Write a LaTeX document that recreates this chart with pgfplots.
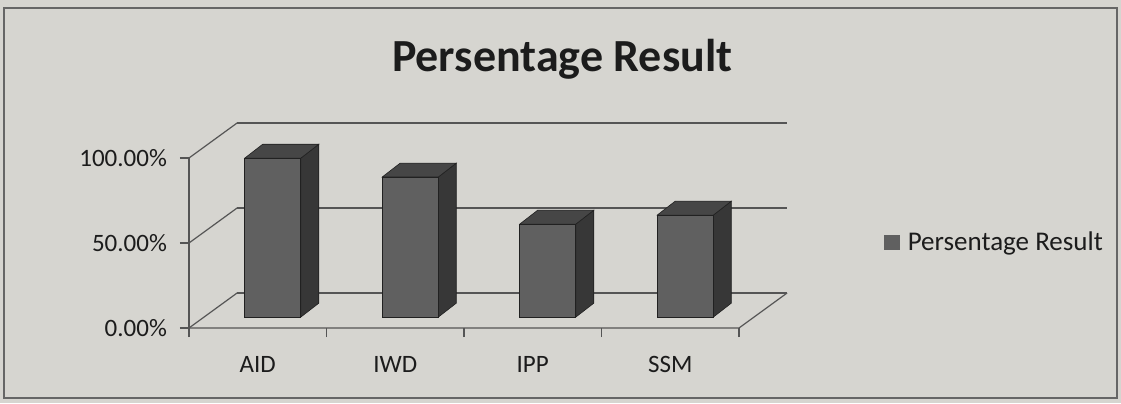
\documentclass[border=0pt]{standalone}
\usepackage{fontspec}
\setmainfont{Carlito}
\usepackage{pgfplots}
\pgfplotsset{compat=1.18}
\usepackage{pgfplotstable}
\definecolor{bg}{RGB}{214,213,208}
\definecolor{frontc}{RGB}{96,96,96}
\definecolor{sidec}{RGB}{55,55,55}
\definecolor{topc}{RGB}{70,70,70}
\definecolor{gridc}{RGB}{85,85,85}
\definecolor{txt}{RGB}{28,28,28}

\pgfplotstableread{
idx v
0 93.5
1 82.4
2 54.7
3 60.0
}\data

\begin{document}
\begin{tikzpicture}
\fill[bg] (-94.5pt,-37.5pt) rectangle (466pt,164pt);
\draw[gridc!90, line width=0.6pt] (-92.5pt,-35pt) rectangle (464pt,160pt);
\begin{axis}[
  at={(0pt,0pt)}, anchor=south west,
  x=68.75pt, y=0.85pt,
  xmin=-0.5, xmax=3.85, ymin=-6.4, ymax=114.2,
  clip=false,
  axis x line*=bottom, axis y line*=left,
  axis line style={draw=none},
  tick align=outside,
  major tick length=4.5pt,
  tick style={gridc, line width=0.6pt},
  xtick={-0.5,0.5,1.5,2.5,3.5},
  xticklabels={},
  extra x ticks={0,1,2,3},
  extra x tick labels={AID,IWD,IPP,SSM},
  extra x tick style={major tick length=0pt, xticklabel style={yshift=-10.5pt}},
  ytick={-6.4,43.6,93.6},
  yticklabels={0.00\%,50.00\%,100.00\%},
  yticklabel style={xshift=-3pt},
  ticklabel style={font=\fontsize{12.5}{15}\selectfont, text=txt},
  title={Persentage Result},
  title style={at={(0.624,1.25)}, anchor=center, font=\bfseries\fontsize{23}{27}\selectfont, text=txt},
  legend style={at={(1.162,0.417)}, anchor=west, draw=none, fill=none,
    font=\fontsize{13.5}{16}\selectfont, text=txt, inner sep=0pt,
    nodes={inner xsep=4pt}},
  legend cell align=left,
]
% back wall gridlines
\addplot[gridc, line width=0.6pt, mark=none, forget plot] coordinates {(-0.15,14.2) (3.85,14.2)};
\addplot[gridc, line width=0.6pt, mark=none, forget plot] coordinates {(-0.15,64.2) (3.85,64.2)};
\addplot[gridc, line width=0.6pt, mark=none, forget plot] coordinates {(-0.15,114.2) (3.85,114.2)};
% left wall
\addplot[gridc, line width=0.6pt, mark=none, forget plot] coordinates {(-0.5,-6.4) (-0.15,14.2)};
\addplot[gridc, line width=0.6pt, mark=none, forget plot] coordinates {(-0.5,43.6) (-0.15,64.2)};
\addplot[gridc, line width=0.6pt, mark=none, forget plot] coordinates {(-0.5,93.6) (-0.15,114.2)};
\addplot[gridc, line width=0.6pt, mark=none, forget plot] coordinates {(-0.5,-6.4) (-0.5,93.6)};
% floor edges
\addplot[gridc, line width=0.6pt, mark=none, forget plot] coordinates {(-0.5,-6.4) (3.5,-6.4) (3.85,14.2)};
% side faces
\addplot[fill=sidec, draw=sidec!60!black, line width=0.3pt, mark=none, forget plot] coordinates {(0.313,0) (0.444,8.2) (0.444,101.7) (0.313,93.5)} -- cycle;
\addplot[fill=sidec, draw=sidec!60!black, line width=0.3pt, mark=none, forget plot] coordinates {(1.313,0) (1.444,8.2) (1.444,90.6) (1.313,82.4)} -- cycle;
\addplot[fill=sidec, draw=sidec!60!black, line width=0.3pt, mark=none, forget plot] coordinates {(2.313,0) (2.444,8.2) (2.444,62.9) (2.313,54.7)} -- cycle;
\addplot[fill=sidec, draw=sidec!60!black, line width=0.3pt, mark=none, forget plot] coordinates {(3.313,0) (3.444,8.2) (3.444,68.2) (3.313,60.0)} -- cycle;
% top faces
\addplot[fill=topc, draw=sidec!60!black, line width=0.3pt, mark=none, forget plot] coordinates {(-0.095,93.5) (0.313,93.5) (0.444,101.7) (0.036,101.7)} -- cycle;
\addplot[fill=topc, draw=sidec!60!black, line width=0.3pt, mark=none, forget plot] coordinates {(0.905,82.4) (1.313,82.4) (1.444,90.6) (1.036,90.6)} -- cycle;
\addplot[fill=topc, draw=sidec!60!black, line width=0.3pt, mark=none, forget plot] coordinates {(1.905,54.7) (2.313,54.7) (2.444,62.9) (2.036,62.9)} -- cycle;
\addplot[fill=topc, draw=sidec!60!black, line width=0.3pt, mark=none, forget plot] coordinates {(2.905,60.0) (3.313,60.0) (3.444,68.2) (3.036,68.2)} -- cycle;
% front faces
\addplot[ybar, bar width=0.408, bar shift=0, fill=frontc, draw=sidec!60!black, line width=0.3pt,
  legend image code/.code={\fill[frontc] (0pt,-3.6pt) rectangle (7.4pt,3.6pt);}]
  table[x expr=\thisrow{idx}+0.109, y=v] {\data};
\addlegendentry{Persentage Result}
\end{axis}
\end{tikzpicture}
\end{document}
